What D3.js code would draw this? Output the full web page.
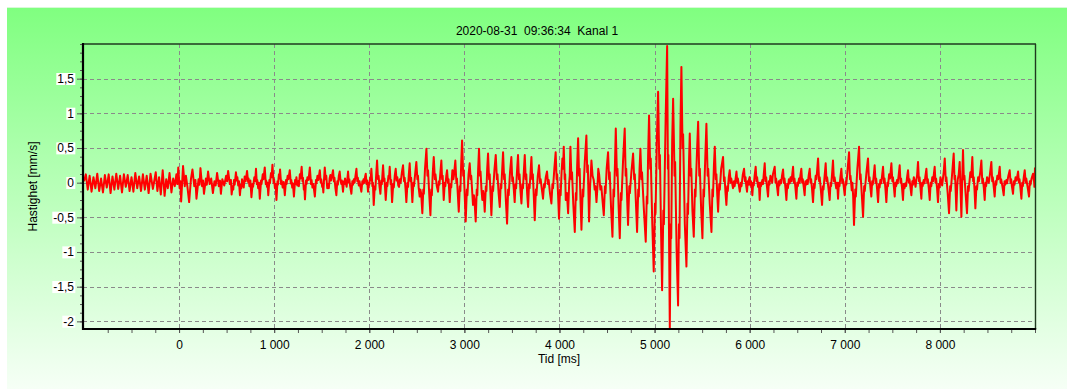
<!DOCTYPE html>
<html><head><meta charset="utf-8">
<script src="https://cdn.jsdelivr.net/npm/d3@7"></script>
<style>body{margin:0;background:#fff}svg{display:block}text{font-family:"Liberation Sans",Arial,sans-serif}</style>
</head><body><svg id="c" width="1067" height="389"></svg>
<script>
const titleText = "2020-08-31  09:36:34  Kanal 1";
const xTitle = "Tid [ms]";
const yTitle = "Hastighet [mm/s]";
const xTicks = [0,1000,2000,3000,4000,5000,6000,7000,8000];
const xTickLabels = ["0","1 000","2 000","3 000","4 000","5 000","6 000","7 000","8 000"];
const yTicks = [1.5,1,0.5,0,-0.5,-1,-1.5,-2];
const yTickLabels = ["1,5","1","0,5","0","-0,5","-1","-1,5","-2"];

// Segment 0: pre-trigger noise (-1000 .. 545 ms)
const time0 = [
-1000,-980,-960,-940,-920,-900,-880,-860,-840,-820,
-800,-780,-760,-740,-720,-700,-680,-660,-640,-620,
-600,-580,-560,-540,-520,-500,-480,-460,-440,-420,
-400,-380,-360,-340,-320,-300,-275,-245,-228,-210,
-192,-172,-152,-135,-118,-100,-80,-62,-45,-28,
-18,-8,6,14,22,42,60,72,88,106,
125,141,160,172,183,205,215,225,242,252,
262,282,292,305,322,338,356,372,385,400,
418,430,440,455,475,495,505,516,534,545];
const vel0 = [
0.02,0.12,-0.10,0.10,-0.13,0.08,-0.08,0.13,-0.12,0.06,
-0.14,0.11,-0.07,0.12,-0.15,0.09,-0.10,0.13,-0.09,0.10,
-0.14,0.12,-0.06,0.11,-0.12,0.08,-0.13,0.14,-0.08,0.09,
-0.12,0.12,-0.10,0.10,-0.15,0.13,-0.09,0.15,-0.12,0.08,
-0.17,0.18,-0.19,0.05,-0.08,0.14,-0.14,0.06,-0.05,0.12,
-0.02,0.22,-0.08,0.02,-0.27,0.24,-0.05,0.10,-0.06,-0.28,
0.05,0.19,-0.05,0.04,-0.23,0.05,-0.03,0.21,-0.05,0.03,
-0.16,0.06,-0.03,0.16,-0.02,0.06,-0.15,0.02,-0.04,0.14,
-0.05,0.03,-0.16,0.05,-0.04,0.10,0.02,0.17,-0.02,0.04];

// Segment A: 553 .. 1525 ms
const timeA = [
553,563,570,578,585,598,608,613,622,630,
640,650,655,662,672,680,690,700,715,726,
731,740,750,761,773,778,792,800,809,818,
822,832,840,849,862,867,880,888,901,912,
916,925,930,938,950,955,967,973,982,994,
999,1008,1015,1024,1035,1040,1050,1055,1062,1073,
1078,1090,1100,1112,1125,1130,1142,1150,1164,1175,
1180,1190,1197,1208,1220,1226,1234,1243,1252,1260,
1270,1278,1289,1298,1303,1312,1316,1324,1335,1340,
1350,1362,1375,1388,1393,1403,1412,1428,1440,1445,
1455,1465,1480,1490,1495,1505,1510,1517,1525];
const velA = [
-0.17,-0.05,-0.10,0.04,-0.03,0.15,0.03,0.08,-0.04,0.02,
-0.18,-0.03,-0.08,0.05,-0.02,-0.07,0.09,0.02,0.17,0.01,
0.06,-0.05,0.03,-0.21,-0.02,-0.06,0.08,0.02,0.20,-0.02,
0.04,-0.08,0.00,-0.23,0.03,-0.02,0.12,0.05,0.22,-0.02,
0.03,-0.06,0.00,-0.18,0.04,-0.01,0.14,0.08,0.26,0.00,
0.05,-0.08,-0.02,-0.25,0.02,-0.03,0.12,0.06,0.19,-0.02,
0.03,-0.07,0.01,-0.18,0.04,-0.02,0.10,0.05,0.18,-0.01,
0.04,-0.07,-0.01,-0.20,0.04,-0.02,0.08,-0.04,0.02,-0.05,
0.12,0.06,0.23,0.02,0.07,-0.10,-0.04,-0.24,0.03,-0.02,
0.08,0.04,0.22,-0.02,0.04,-0.07,-0.02,-0.20,0.04,-0.01,
0.10,0.04,0.18,0.00,0.05,-0.06,-0.02,-0.14,0.06];

// Segment B: 1532 .. 4038 ms
const timeB = [
1532,1542,1548,1558,1567,1575,1583,1591,1598,1606,
1619,1628,1634,1644,1654,1664,1670,1680,1689,1697,
1706,1712,1724,1733,1738,1745,1753,1762,1769,1777,
1786,1790,1800,1812,1822,1828,1838,1846,1855,1865,
1874,1880,1890,1898,1907,1917,1927,1932,1940,1948,
1955,1963,1972,1978,1987,1996,2000,2010,2015,2022,
2033,2038,2047,2058,2064,2073,2082,2092,2098,2108,
2117,2126,2132,2145,2155,2160,2173,2185,2190,2202,
2207,2215,2225,2230,2240,2252,2258,2268,2278,2288,
2295,2305,2313,2322,2330,2343,2355,2366,2372,2382,
2390,2402,2408,2416,2425,2434,2440,2453,2464,2470,
2482,2495,2506,2512,2520,2530,2538,2546,2558,2568,
2574,2586,2601,2612,2618,2630,2643,2652,2658,2668,
2678,2690,2696,2710,2723,2732,2738,2748,2758,2766,
2772,2783,2794,2800,2810,2818,2828,2834,2846,2856,
2862,2874,2884,2890,2905,2916,2922,2941,2952,2958,
2966,2976,2988,2994,3004,3014,3026,3032,3044,3056,
3066,3072,3091,3100,3106,3119,3130,3136,3145,3154,
3164,3170,3180,3189,3198,3204,3214,3226,3232,3240,
3249,3260,3266,3276,3284,3296,3302,3316,3330,3342,
3348,3360,3372,3382,3388,3398,3407,3418,3424,3436,
3449,3460,3466,3480,3494,3504,3510,3520,3529,3538,
3544,3554,3564,3574,3580,3590,3600,3610,3616,3626,
3635,3645,3651,3660,3670,3680,3686,3696,3705,3714,
3720,3730,3740,3752,3758,3772,3785,3796,3802,3815,
3827,3838,3844,3856,3869,3880,3886,3900,3915,3926,
3932,3946,3960,3970,3976,3986,3995,4006,4012,4022,
4031,4038];
const velB = [
0.22,0.05,0.10,-0.08,-0.02,-0.08,0.06,0.11,0.03,0.08,
0.18,0.02,0.07,-0.08,-0.18,0.02,-0.03,0.10,0.16,0.04,
-0.02,0.03,-0.13,0.02,-0.02,0.06,0.00,-0.06,0.04,0.16,
0.00,0.05,-0.06,-0.16,0.02,-0.03,0.05,0.00,0.10,0.20,
0.02,0.07,-0.04,0.02,-0.06,-0.13,0.02,-0.02,0.05,0.00,
0.08,0.13,-0.02,0.03,-0.13,0.00,-0.03,0.08,0.04,0.20,
-0.05,0.00,-0.32,-0.05,-0.10,0.12,0.32,0.05,0.10,-0.06,
-0.16,0.03,-0.02,0.25,0.02,0.06,-0.25,0.00,-0.05,0.10,
0.06,0.23,-0.02,0.04,-0.28,-0.02,-0.07,0.10,0.20,0.03,
0.08,-0.04,-0.06,0.05,0.00,0.15,0.25,0.02,0.07,-0.10,
-0.28,0.00,-0.06,0.12,0.28,0.02,0.07,-0.28,0.00,-0.05,
0.12,0.30,0.05,0.10,-0.08,-0.20,-0.10,-0.16,-0.44,-0.10,
-0.16,0.20,0.49,0.10,0.18,-0.15,-0.47,-0.10,-0.18,0.15,
0.37,0.05,0.12,-0.05,-0.13,0.02,-0.03,0.15,0.32,0.05,
0.10,-0.25,0.00,-0.05,0.10,0.18,0.00,0.05,-0.28,-0.02,
-0.07,0.18,0.05,0.10,0.32,0.00,0.06,-0.42,-0.05,-0.12,
0.25,0.61,0.10,0.18,-0.20,-0.56,-0.10,-0.18,0.12,0.28,
0.05,0.10,-0.32,-0.18,-0.24,-0.56,-0.10,-0.18,0.20,0.49,
0.10,0.16,-0.10,-0.25,-0.12,-0.18,-0.42,-0.05,-0.12,0.20,
0.42,0.05,0.12,-0.20,-0.47,-0.05,-0.12,0.18,0.40,0.05,
0.12,-0.15,-0.35,-0.02,-0.08,0.20,0.44,0.05,0.12,-0.25,
-0.59,-0.10,-0.18,0.15,0.37,0.02,0.08,-0.10,-0.28,-0.02,
-0.08,0.18,0.40,0.05,0.12,-0.12,-0.30,-0.02,-0.08,0.18,
0.40,0.05,0.12,-0.15,-0.35,-0.02,-0.08,0.15,0.37,0.05,
0.12,-0.20,-0.54,-0.10,-0.18,0.10,0.25,0.00,0.05,-0.10,
-0.23,-0.02,-0.07,0.08,0.16,-0.02,0.04,-0.15,-0.30,-0.02,
-0.08,0.20,0.44,0.05,0.12,-0.20,-0.52,-0.10,-0.18,0.15,
0.35,0.20];

// Segment C: strong part 4045 .. 5928 ms
const timeC = [
4045,4055,4060,4066,4078,4091,4102,4108,4115,4126,
4132,4145,4161,4172,4178,4186,4196,4206,4212,4222,
4231,4244,4250,4266,4283,4292,4298,4311,4322,4328,
4336,4348,4360,4370,4378,4389,4400,4408,4417,4430,
4440,4452,4466,4478,4484,4496,4511,4522,4528,4542,
4557,4568,4574,4584,4592,4604,4610,4622,4634,4646,
4652,4668,4686,4696,4702,4712,4721,4734,4740,4756,
4774,4786,4792,4804,4816,4828,4834,4842,4851,4862,
4868,4888,4907,4918,4924,4932,4942,4954,4960,4976,
4991,5004,5010,5024,5037,5050,5056,5068,5079,5092,
5098,5116,5132,5140,5145,5160,5170,5175,5185,5195,
5210,5216,5232,5247,5256,5262,5272,5282,5294,5300,
5318,5335,5346,5352,5362,5370,5380,5386,5398,5412,
5424,5430,5446,5458,5470,5476,5490,5503,5514,5520,
5534,5545,5558,5564,5580,5598,5608,5614,5624,5633,
5644,5650,5660,5668,5680,5686,5700,5720,5730,5736,
5746,5755,5765,5770,5780,5790,5800,5806,5825,5835,
5842,5861,5870,5876,5896,5908,5914,5928];
const velC = [
0.52,0.05,0.12,-0.25,-0.15,-0.44,0.00,0.10,0.52,0.05,
0.15,-0.30,-0.71,-0.15,-0.25,0.25,0.64,0.10,0.20,-0.30,
-0.68,-0.10,-0.20,0.30,0.68,0.15,0.25,-0.56,-0.05,0.10,
0.32,0.10,0.04,-0.10,-0.05,-0.28,-0.05,0.20,0.12,-0.10,
-0.05,-0.25,-0.47,-0.05,-0.15,0.20,0.44,0.05,0.15,-0.35,
-0.78,-0.10,-0.20,0.30,0.78,0.10,0.20,-0.35,-0.80,-0.15,
-0.25,0.30,0.78,0.10,0.20,-0.25,-0.61,-0.05,-0.15,0.15,
0.42,0.05,0.12,-0.30,-0.71,-0.10,-0.20,0.20,0.49,0.05,
0.15,-0.40,-0.85,-0.20,-0.30,0.40,0.97,0.20,0.35,-0.60,
-1.28,-0.30,-0.45,0.60,1.31,0.20,0.40,-0.70,-1.55,-0.40,
-0.60,0.90,1.97,0.20,0.40,-2.10,-0.60,-0.80,0.60,1.21,
0.10,0.30,-1.00,-1.77,-0.60,-0.80,0.80,1.67,0.50,0.70,
-0.60,-1.21,-0.30,-0.45,0.30,0.71,0.10,0.20,-0.40,-0.78,
-0.10,-0.20,0.45,0.88,0.10,0.20,-0.40,-0.80,-0.10,-0.20,
0.40,0.85,0.10,0.20,-0.30,-0.71,-0.10,-0.20,0.25,0.52,
0.05,0.12,-0.20,-0.42,-0.02,-0.10,0.20,0.37,0.02,0.08,
-0.15,-0.32,-0.05,-0.12,0.08,0.18,0.00,0.06,-0.08,0.02,
-0.05,0.16,0.00,0.06,-0.13,0.00,-0.05,0.12];

// Segment D: decay 5941 .. 9000 ms
const timeD = [
5941,5950,5956,5964,5972,5980,5986,5993,6000,6008,
6014,6022,6028,6037,6043,6052,6063,6072,6078,6088,
6096,6105,6114,6120,6133,6140,6148,6158,6167,6173,
6182,6193,6202,6208,6218,6228,6236,6244,6263,6272,
6278,6288,6298,6306,6312,6323,6330,6340,6351,6360,
6366,6376,6386,6395,6402,6412,6421,6430,6440,6456,
6465,6471,6480,6491,6500,6506,6519,6526,6533,6543,
6552,6558,6568,6578,6586,6592,6603,6610,6620,6631,
6640,6646,6656,6666,6676,6682,6694,6702,6719,6730,
6736,6748,6761,6770,6776,6788,6799,6808,6814,6828,
6841,6850,6856,6866,6876,6886,6892,6910,6920,6929,
6938,6944,6954,6964,6973,6979,6989,6999,7010,7016,
7030,7045,7055,7060,7073,7080,7088,7097,7110,7116,
7132,7150,7160,7166,7178,7192,7204,7210,7228,7244,
7254,7260,7270,7279,7288,7294,7304,7314,7324,7330,
7340,7350,7360,7366,7374,7382,7392,7402,7412,7418,
7428,7437,7448,7454,7466,7476,7490,7500,7506,7516,
7525,7533,7540,7549,7556,7566,7577,7586,7592,7602,
7612,7620,7628,7637,7645,7655,7665,7674,7680,7690,
7700,7710,7716,7726,7734,7744,7752,7760,7770,7780,
7786,7796,7805,7813,7819,7830,7838,7848,7858,7867,
7873,7883,7893,7903,7910,7920,7928,7945,7954,7960,
7970,7980,7990,7996,8006,8014,8024,8032,8040,8051,
8062,8068,8082,8096,8108,8114,8130,8145,8154,8160,
8173,8182,8188,8198,8208,8216,8226,8234,8243,8252,
8258,8270,8285,8296,8302,8320,8330,8341,8350,8356,
8364,8373,8384,8390,8402,8410,8424,8436,8446,8452,
8462,8471,8480,8486,8496,8506,8514,8526,8541,8550,
8556,8566,8576,8586,8592,8604,8614,8629,8638,8644,
8658,8671,8680,8686,8699,8706,8720,8734,8743,8749,
8758,8769,8778,8784,8796,8806,8822,8831,8837,8847,
8857,8866,8872,8882,8892,8902,8908,8922,8937,8946,
8952,8964,8979,8990,8994,9000];
const velD = [
0.20,0.02,0.08,-0.05,-0.13,0.02,-0.03,0.05,0.08,-0.04,
0.02,-0.08,-0.18,0.00,-0.04,0.10,0.23,0.02,0.08,-0.06,
0.00,-0.25,0.00,-0.05,0.04,-0.02,0.12,0.28,0.02,0.08,
-0.06,-0.20,0.02,-0.03,0.10,0.06,0.00,0.12,0.23,0.00,
0.06,-0.06,-0.18,0.02,-0.04,0.04,-0.01,0.10,0.19,0.00,
0.06,-0.08,-0.25,-0.02,-0.08,0.05,-0.01,0.08,0.02,0.23,
0.00,0.06,-0.06,-0.23,0.00,-0.05,0.06,0.00,0.10,0.20,
0.00,0.05,-0.06,-0.18,0.02,-0.03,0.04,-0.02,0.10,0.20,
0.00,0.05,-0.10,-0.28,-0.02,-0.08,0.10,0.05,0.35,0.02,
0.08,-0.10,-0.32,-0.05,-0.10,0.10,0.28,0.02,0.08,-0.08,
-0.25,0.00,-0.05,0.12,0.32,0.02,0.08,-0.08,0.00,-0.23,
0.00,-0.05,0.08,0.20,0.00,0.05,-0.06,-0.18,0.02,-0.03,
0.20,0.44,0.05,0.10,-0.11,0.00,-0.20,-0.61,-0.10,-0.20,
0.20,0.52,0.05,0.12,-0.15,-0.49,-0.05,-0.12,0.15,0.35,
0.02,0.08,-0.08,-0.20,0.02,-0.03,0.10,0.25,0.00,0.06,
-0.10,-0.28,-0.02,-0.07,0.04,-0.01,0.10,0.23,0.00,0.06,
-0.10,-0.28,0.00,-0.05,0.12,0.06,0.28,0.02,0.08,-0.06,
-0.20,0.00,-0.05,0.04,-0.01,0.10,0.25,0.00,0.06,-0.08,
-0.25,-0.02,-0.08,-0.01,-0.05,0.08,0.18,0.00,0.05,-0.06,
-0.18,0.02,-0.03,0.08,0.02,-0.06,0.04,0.10,0.30,0.02,
0.08,-0.08,-0.23,0.00,-0.05,0.04,-0.01,0.10,0.20,0.00,
0.05,-0.08,-0.25,0.00,-0.05,0.08,0.02,0.23,0.00,0.06,
-0.08,-0.28,-0.02,-0.07,0.08,0.02,-0.04,0.06,0.15,0.35,
0.02,0.08,-0.15,-0.44,-0.05,-0.12,0.15,0.42,0.05,0.10,
-0.40,-0.05,0.05,0.12,0.30,-0.05,-0.49,0.00,0.47,0.05,
0.10,-0.15,-0.44,-0.05,-0.12,0.15,0.08,0.37,0.02,0.08,
-0.10,-0.37,-0.05,-0.10,0.08,0.02,0.15,0.32,0.00,0.06,
-0.08,-0.25,0.00,-0.05,0.08,0.04,0.00,0.12,0.30,0.02,
0.08,-0.06,-0.20,0.02,-0.03,0.10,0.05,0.23,0.00,0.05,
-0.06,-0.18,0.02,-0.03,0.04,-0.01,0.10,0.18,0.00,0.05,
-0.06,-0.16,0.02,-0.03,0.08,0.03,0.16,0.00,0.05,-0.08,
-0.23,0.00,-0.05,0.08,0.18,0.00,0.06,-0.06,-0.20,0.02,
-0.03,0.06,0.13,0.02,-0.06,0.22];

const timeMs = [...time0, ...timeA, ...timeB, ...timeC, ...timeD];
const velocity = [...vel0, ...velA, ...velB, ...velC, ...velD];

const W = 1067, H = 389;
const L = 83, R = 1035, T = 44, B = 329;
const svg = d3.select("#c");
const defs = svg.append("defs");
const grad = defs.append("linearGradient").attr("id","bg").attr("x1",0).attr("y1",0).attr("x2",0).attr("y2",1);
grad.append("stop").attr("offset","0%").attr("stop-color","rgb(128,255,128)");
grad.append("stop").attr("offset","100%").attr("stop-color","rgb(246,255,246)");
defs.append("clipPath").attr("id","clip").append("rect").attr("x",L).attr("y",T).attr("width",R-L).attr("height",B-T);

svg.append("rect").attr("width",W).attr("height",H).attr("fill","#fff");
svg.append("rect").attr("x",7).attr("y",8).attr("width",W-7).attr("height",H-8).attr("fill","url(#bg)");
svg.append("line").attr("x1",7).attr("x2",W).attr("y1",7.5).attr("y2",7.5).attr("stroke","#d8f8d8");

const x = d3.scaleLinear().domain([-1010, 9000]).range([L, R]);
const y = d3.scaleLinear().domain([-2.11, 2.0]).range([B, T]);

// grid
const grid = svg.append("g").attr("stroke","#8a8a8a").attr("stroke-width",1).attr("stroke-dasharray","4,3");
grid.selectAll(".gx").data(xTicks).join("line")
  .attr("x1",d=>Math.round(x(d))+0.5).attr("x2",d=>Math.round(x(d))+0.5).attr("y1",T).attr("y2",B);
grid.selectAll(".gy").data(yTicks).join("line")
  .attr("y1",d=>Math.round(y(d))+0.5).attr("y2",d=>Math.round(y(d))+0.5).attr("x1",L).attr("x2",R);

// trace
const n = Math.min(timeMs.length, velocity.length);
const pts = timeMs.slice(0,n).map((t,i)=>[t, velocity[i]]);
const line = d3.line().x(d=>x(d[0])).y(d=>y(d[1]));
svg.append("path").datum(pts).attr("clip-path","url(#clip)")
  .attr("fill","none").attr("stroke","#ff0000").attr("stroke-width",2).attr("stroke-linejoin","round").attr("d",line);

// axes
const xMinor = d3.range(-750, 9001, 250);
const yMinor = d3.range(-2, 2.0001, 0.125);
const gxMin = svg.append("g").attr("transform",`translate(0,${B})`).call(d3.axisBottom(x).tickValues(xMinor).tickSize(4).tickFormat(""));
gxMin.select(".domain").remove();
gxMin.selectAll("line").attr("stroke","#555");
const xAxisMaj = d3.axisBottom(x).tickValues(xTicks).tickSize(4).tickPadding(7).tickFormat((d,i)=>xTickLabels[i]);
const gx = svg.append("g").attr("transform",`translate(0,${B})`).call(xAxisMaj);
gx.select(".domain").remove();
gx.selectAll("line").attr("stroke","#555");
gx.selectAll("text").attr("font-size",12).attr("fill","#000").attr("font-family","Liberation Sans, Arial, sans-serif");

const gyMin = svg.append("g").attr("transform",`translate(${L},0)`).call(d3.axisLeft(y).tickValues(yMinor).tickSize(3).tickFormat(""));
gyMin.select(".domain").remove();
gyMin.selectAll("line").attr("stroke","#555");
const yAxisMaj = d3.axisLeft(y).tickValues(yTicks).tickSize(6).tickPadding(3).tickFormat((d,i)=>yTickLabels[i]);
const gy = svg.append("g").attr("transform",`translate(${L},0)`).call(yAxisMaj);
gy.select(".domain").remove();
gy.selectAll("line").attr("stroke","#555");
gy.selectAll("text").attr("font-size",12).attr("fill","#000").attr("font-family","Liberation Sans, Arial, sans-serif");
gy.selectAll(".tick").each(function(){
  const g = d3.select(this);
  const bb = g.select("text").node().getBBox();
  g.insert("rect","text").attr("x",bb.x-1).attr("y",bb.y+1).attr("width",bb.width+2).attr("height",bb.height-2).attr("fill","#fff");
});

// frame
svg.append("line").attr("x1",L).attr("x2",R+1).attr("y1",T).attr("y2",T).attr("stroke","#1f3a1f").attr("stroke-width",1.6);
svg.append("line").attr("x1",R+0.5).attr("x2",R+0.5).attr("y1",T).attr("y2",B).attr("stroke","#1f3a1f").attr("stroke-width",1.4);
svg.append("line").attr("x1",L).attr("x2",L).attr("y1",T-1).attr("y2",B+1).attr("stroke","#000").attr("stroke-width",2.2);
svg.append("line").attr("x1",L-1).attr("x2",R+1.2).attr("y1",B).attr("y2",B).attr("stroke","#000").attr("stroke-width",2.2);

// titles
svg.append("text").attr("x",537).attr("y",35).attr("text-anchor","middle").attr("font-size",12)
  .style("white-space","pre").text(titleText);
svg.append("text").attr("x",(L+R)/2).attr("y",363).attr("text-anchor","middle").attr("font-size",12).text(xTitle);
svg.append("text").attr("transform",`translate(37,${(T+B)/2}) rotate(-90)`).attr("text-anchor","middle").attr("font-size",12).text(yTitle);
</script></body></html>
